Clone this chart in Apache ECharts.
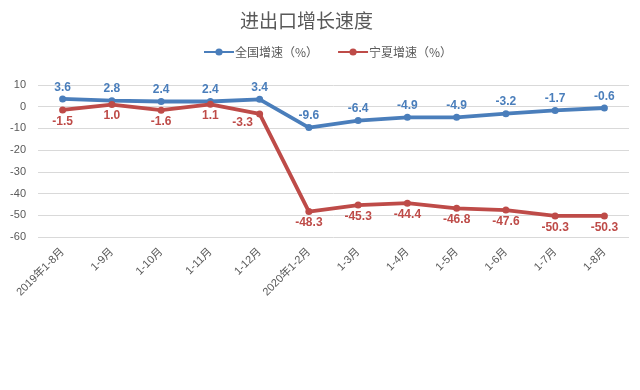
<!DOCTYPE html>
<html><head><meta charset="utf-8">
<script src="https://cdn.jsdelivr.net/npm/echarts@6/dist/echarts.min.js"></script>
<style>html,body{margin:0;padding:0;background:#fff}#c{width:640px;height:390px}</style>
</head><body><div id="c"></div>
<script>
const categories = ['2019年1-8月','1-9月','1-10月','1-11月','1-12月','2020年1-2月','1-3月','1-4月','1-5月','1-6月','1-7月','1-8月'];
const national = [3.6, 2.8, 2.4, 2.4, 3.4, -9.6, -6.4, -4.9, -4.9, -3.2, -1.7, -0.6];
const ningxia = [-1.5, 1.0, -1.6, 1.1, -3.3, -48.3, -45.3, -44.4, -46.8, -47.6, -50.3, -50.3];
const yTicks = {min: -60, max: 10, interval: 10};
const seriesNames = ['全国增速（%）', '宁夏增速（%）'];

const font = '"Liberation Sans","Noto Sans CJK SC",sans-serif';
const cjk = '"Noto Sans CJK SC",sans-serif';
const fmt = p => Number(p.value).toFixed(1);
const ningxiaItems = ningxia.map((v, i) => i === 4 ? {value: v, label: {offset: [-17, -3]}} : v);

const chart = echarts.init(document.getElementById('c'));
chart.setOption({
  animation: false,
  textStyle: {fontFamily: font},
  title: {text: '进出口增长速度', left: 235, top: 6,
    textStyle: {fontSize: 19, fontWeight: 'normal', color: '#595959', fontFamily: cjk}},
  legend: {top: 41, left: 198, itemGap: 19, itemWidth: 30, itemHeight: 9,
    textStyle: {fontSize: 12, color: '#595959', fontFamily: cjk, padding: [0, 0, 0, -4]},
    data: seriesNames},
  grid: {left: 38, top: 85, width: 591, height: 152, containLabel: false},
  xAxis: {type: 'category', data: categories, boundaryGap: true,
    axisLine: {show: false}, axisTick: {show: false},
    axisLabel: {rotate: 45, fontSize: 11, color: '#595959', interval: 0, margin: 13}},
  yAxis: {type: 'value', min: yTicks.min, max: yTicks.max, interval: yTicks.interval,
    axisLine: {show: false}, axisTick: {show: false},
    axisLabel: {fontSize: 11, color: '#595959', margin: 12},
    splitLine: {lineStyle: {color: '#D9D9D9', width: 1}}},
  series: [
    {name: seriesNames[0], type: 'line', data: national, color: '#4A7EBB',
      symbol: 'circle', symbolSize: 7, lineStyle: {width: 3.8},
      label: {show: true, position: 'top', distance: 2, fontSize: 12, fontWeight: 'bold', color: '#4A7EBB',
        formatter: fmt}},
    {name: seriesNames[1], type: 'line', data: ningxiaItems, color: '#BE4B48',
      symbol: 'circle', symbolSize: 7, lineStyle: {width: 3.8},
      label: {show: true, position: 'bottom', distance: 2, fontSize: 12, fontWeight: 'bold', color: '#BE4B48',
        formatter: fmt}}
  ]
});
</script></body></html>
